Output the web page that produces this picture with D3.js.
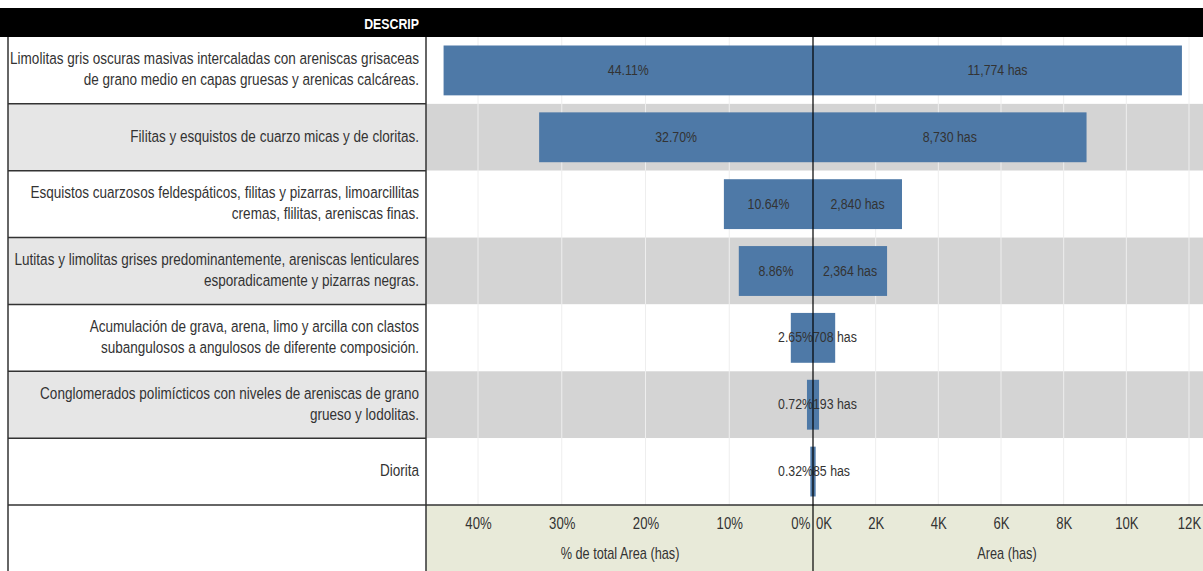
<!DOCTYPE html>
<html>
<head>
<meta charset="utf-8">
<script src="https://cdn.jsdelivr.net/npm/d3@7"></script>
<style>
  body { margin: 0; background: #fff; }
  svg text { font-family: "Liberation Sans", Arial, sans-serif; }
</style>
</head>
<body>
<div id="chart"></div>
<script>
var W = 1203, H = 571;

// data
var descrip = [
  ["Limolitas gris oscuras masivas intercaladas con areniscas grisaceas", "de grano medio en capas gruesas y arenicas calcáreas."],
  ["Filitas y esquistos de cuarzo micas y de cloritas."],
  ["Esquistos cuarzosos feldespáticos, filitas y pizarras, limoarcillitas", "cremas, flilitas, areniscas finas."],
  ["Lutitas y limolitas grises predominantemente, areniscas lenticulares", "esporadicamente y pizarras negras."],
  ["Acumulación de grava, arena, limo y arcilla con clastos", "subangulosos a angulosos de diferente composición."],
  ["Conglomerados polimícticos con niveles de areniscas de grano", "grueso y lodolitas."],
  ["Diorita"]
];
var pctTotal = [0.4411, 0.3270, 0.1064, 0.0886, 0.0265, 0.0072, 0.0032];
var areaHas = [11774, 8730, 2840, 2364, 708, 193, 85];
var pctTicks = [0, 0.1, 0.2, 0.3, 0.4];
var areaTicks = [0, 2000, 4000, 6000, 8000, 10000, 12000];

var leftX0 = 8, leftX1 = 426, zeroX = 813;
var headerTop = 8, rowsTop = 37, rowsBottom = 505;

var svg = d3.select("#chart").append("svg")
  .attr("width", W).attr("height", H);

// narrow font: squeeze a regular sans horizontally (no condensed face installed)
var probe = svg.append("text").attr("font-size", 17).text(descrip[0][0]);
var k = 409 / probe.node().getComputedTextLength();
probe.remove();

function txt(g, x, y, s, size, anchor) {
  return g.append("text")
    .attr("transform", "translate(" + x + "," + y + ") scale(" + k + ",1)")
    .attr("font-size", size).attr("text-anchor", anchor || "start").text(s);
}

var y = d3.scaleBand().domain(d3.range(descrip.length)).range([rowsTop, rowsBottom]);
var xPct = d3.scaleLinear().domain([0, 0.4]).range([zeroX, 478]);
var xArea = d3.scaleLinear().domain([0, 12000]).range([zeroX, 1189]);
var barPad = 8.5;

// header
svg.append("rect").attr("x", 0).attr("y", headerTop).attr("width", W).attr("height", rowsTop - headerTop).attr("fill", "#000");
txt(svg, 419, 29, "DESCRIP", 15.5, "end").attr("fill", "#fff").attr("font-weight", "bold");

// row backgrounds
var rows = svg.append("g");
rows.selectAll(".lbg").data(descrip).join("rect")
  .attr("x", leftX0).attr("y", (d, i) => y(i)).attr("width", leftX1 - leftX0).attr("height", y.bandwidth())
  .attr("fill", (d, i) => i % 2 ? "#e6e6e6" : "#fff");
rows.selectAll(".rbg").data(descrip).join("rect")
  .attr("x", leftX1).attr("y", (d, i) => y(i)).attr("width", W - leftX1).attr("height", y.bandwidth())
  .attr("fill", (d, i) => i % 2 ? "#d4d4d4" : "#fff");

// axis background
svg.append("rect").attr("x", leftX1).attr("y", rowsBottom).attr("width", W - leftX1).attr("height", H - rowsBottom)
  .attr("fill", "#e8ead9");

// gridlines
var grid = svg.append("g").attr("stroke", "#eeeeee").attr("stroke-width", 1);
grid.selectAll(".gp").data(pctTicks.slice(1)).join("line")
  .attr("x1", d => xPct(d)).attr("x2", d => xPct(d)).attr("y1", rowsTop).attr("y2", rowsBottom);
grid.selectAll(".ga").data(areaTicks.slice(1)).join("line")
  .attr("x1", d => xArea(d)).attr("x2", d => xArea(d)).attr("y1", rowsTop).attr("y2", rowsBottom);

// bars
var bars = svg.append("g").attr("fill", "#4e79a7");
bars.selectAll(".bp").data(pctTotal).join("rect")
  .attr("x", d => xPct(d)).attr("width", d => zeroX - xPct(d))
  .attr("y", (d, i) => y(i) + barPad).attr("height", y.bandwidth() - 2 * barPad);
bars.selectAll(".ba").data(areaHas).join("rect")
  .attr("x", zeroX).attr("width", d => xArea(d) - zeroX)
  .attr("y", (d, i) => y(i) + barPad).attr("height", y.bandwidth() - 2 * barPad);

// bar labels: centred when they fit, otherwise pushed against the zero line
var fmtPct = d3.format(".2%");
var fmtArea = d => d3.format(",")(d) + " has";
var lab = svg.append("g").attr("fill", "#333");
pctTotal.forEach(function(d, i) {
  var t = txt(lab, 0, 0, fmtPct(d), 15.5, "middle");
  var w = t.node().getComputedTextLength() * k, bw = zeroX - xPct(d);
  var yy = y(i) + y.bandwidth() / 2 + 4.5;
  if (w + 4 < bw) t.attr("transform", "translate(" + ((zeroX + xPct(d)) / 2) + "," + yy + ") scale(" + k + ",1)");
  else t.attr("text-anchor", "end").attr("transform", "translate(" + zeroX + "," + yy + ") scale(" + k + ",1)");
});
areaHas.forEach(function(d, i) {
  var t = txt(lab, 0, 0, fmtArea(d), 15.5, "middle");
  var w = t.node().getComputedTextLength() * k, bw = xArea(d) - zeroX;
  var yy = y(i) + y.bandwidth() / 2 + 4.5;
  if (w + 4 < bw) t.attr("transform", "translate(" + ((zeroX + xArea(d)) / 2) + "," + yy + ") scale(" + k + ",1)");
  else t.attr("text-anchor", "start").attr("transform", "translate(" + zeroX + "," + yy + ") scale(" + k + ",1)");
});

// row labels
var rl = svg.append("g").attr("fill", "#333");
descrip.forEach(function(lines, i) {
  var y0 = y(i) + y.bandwidth() / 2 + 4.5 - (lines.length - 1) * 10.5;
  lines.forEach(function(s, j) { txt(rl, 419, y0 + j * 21, s, 17, "end"); });
});

// borders
var b = svg.append("g").attr("stroke", "#333").attr("stroke-width", 1.5);
y.domain().forEach(function(i) {
  if (i > 0) b.append("line").attr("x1", leftX0).attr("x2", leftX1).attr("y1", y(i)).attr("y2", y(i));
});
b.append("line").attr("x1", leftX0).attr("x2", W).attr("y1", rowsBottom).attr("y2", rowsBottom);
b.append("line").attr("x1", leftX0).attr("x2", leftX0).attr("y1", rowsTop).attr("y2", H);
b.append("line").attr("x1", leftX1).attr("x2", leftX1).attr("y1", rowsTop).attr("y2", H);
svg.append("line").attr("x1", zeroX).attr("x2", zeroX).attr("y1", rowsTop).attr("y2", H)
  .attr("stroke", "#000").attr("stroke-width", 1.2);

// axes
var pctAxis = d3.axisBottom(xPct).tickValues(pctTicks).tickSize(0).tickFormat(d3.format(".0%"));
var areaAxis = d3.axisBottom(xArea).tickValues(areaTicks).tickSize(0).tickFormat(d => (d / 1000) + "K");
var ga = svg.append("g").attr("transform", "translate(0," + (rowsBottom + 9) + ")").call(pctAxis);
var gb = svg.append("g").attr("transform", "translate(0," + (rowsBottom + 9) + ")").call(areaAxis);
[ga, gb].forEach(function(g) {
  g.select(".domain").remove();
  g.selectAll("text").attr("font-size", 16.5).attr("fill", "#333")
    .attr("font-family", null).attr("transform", "scale(" + k + ",1)");
});
ga.selectAll(".tick").filter(d => d === 0).select("text").attr("text-anchor", "end").attr("x", -4);
gb.selectAll(".tick").filter(d => d === 0).select("text").attr("text-anchor", "start").attr("x", 3);

txt(svg, 620, 559, "% de total Area (has)", 16, "middle").attr("fill", "#333");
txt(svg, 1007, 559, "Area (has)", 16, "middle").attr("fill", "#333");
</script>
</body>
</html>
